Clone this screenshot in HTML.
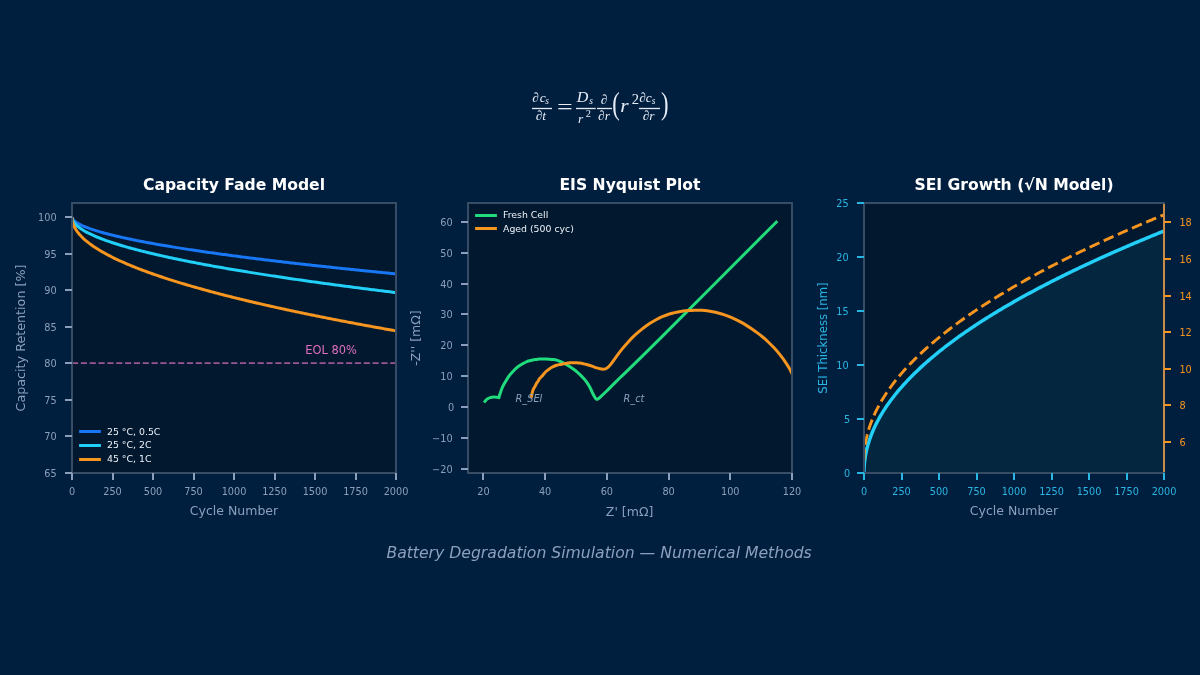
<!DOCTYPE html>
<html lang="en"><head><meta charset="utf-8"><title>Battery Degradation Simulation</title>
<style>
html,body{margin:0;padding:0;background:#001f3f;}
body{width:1200px;height:675px;overflow:hidden;}
svg{display:block;font-family:"DejaVu Sans","Liberation Sans",sans-serif;}
.m{font-family:"Liberation Serif","DejaVu Serif",serif;font-style:italic;fill:#e6ecf6;}
.r{font-family:"Liberation Serif","DejaVu Serif",serif;font-style:normal;fill:#e6ecf6;}
</style></head><body>
<svg width="1200" height="675" viewBox="0 0 1200 675">
<rect width="1200" height="675" fill="#001f3f"/>
<g id="formula">
<text class="m" x="532.3" y="102" font-size="13.4" >∂</text>
<text class="m" x="539.7" y="102" font-size="13.4" >c</text>
<text class="m" x="545.2" y="103.9" font-size="9.4" >s</text>
<path d="M532,108.5 H552" stroke="#e6ecf6" stroke-width="1.3" fill="none"/>
<text class="m" x="535.7" y="120" font-size="13.4" >∂</text>
<text class="m" x="542.2" y="120" font-size="13.4" >t</text>
<text class="r" x="0" y="0" font-size="30" transform="translate(557.1,113.7) scale(0.93,0.73)">=</text>
<text class="m" x="576.7" y="102" font-size="14.2" textLength="11.6" lengthAdjust="spacingAndGlyphs">D</text>
<text class="m" x="589.3" y="103.9" font-size="9.4" >s</text>
<path d="M576,108.5 H595.7" stroke="#e6ecf6" stroke-width="1.3" fill="none"/>
<text class="m" x="578" y="122.7" font-size="13.4" >r</text>
<text class="r" x="585.7" y="117.3" font-size="10.4" >2</text>
<text class="m" x="600.7" y="104.3" font-size="13.4" >∂</text>
<path d="M597,108.5 H612" stroke="#e6ecf6" stroke-width="1.3" fill="none"/>
<text class="m" x="598" y="120" font-size="13.4" >∂</text>
<text class="m" x="604.7" y="120" font-size="13.4" >r</text>
<text class="r" x="0" y="0" font-size="30" transform="translate(612.25,114.1) scale(0.75,1.03)">(</text>
<text class="m" x="620.2" y="111.9" font-size="18.2" textLength="8.4" lengthAdjust="spacingAndGlyphs">r</text>
<text class="r" x="631.7" y="104" font-size="14.6" >2</text>
<text class="m" x="639.3" y="102" font-size="13.4" >∂</text>
<text class="m" x="645.7" y="102" font-size="13.4" >c</text>
<text class="m" x="651.7" y="104" font-size="9.4" >s</text>
<path d="M639,108.5 H660" stroke="#e6ecf6" stroke-width="1.3" fill="none"/>
<text class="m" x="642.7" y="120" font-size="13.4" >∂</text>
<text class="m" x="649.3" y="120" font-size="13.4" >r</text>
<text class="r" x="0" y="0" font-size="30" transform="translate(660.95,114.1) scale(0.75,1.03)">)</text>
</g>
<rect x="72" y="203" width="324" height="270" fill="#02182f"/>
<clipPath id="c1"><rect x="72" y="203" width="324" height="270"/></clipPath>
<g clip-path="url(#c1)" fill="none" stroke-width="3" stroke-linejoin="round">
<path d="M72,217.09 L72.14,217.89 L72.27,218.25 L72.41,218.54 L72.55,218.79 L72.69,219.02 L72.82,219.22 L72.96,219.41 L73.1,219.58 L73.24,219.75 L73.37,219.91 L73.51,220.06 L73.65,220.2 L73.78,220.34 L73.92,220.48 L74.06,220.61 L74.2,220.74 L74.33,220.86 L74.47,220.98 L74.61,221.1 L74.75,221.21 L74.88,221.32 L75.02,221.43 L75.16,221.54 L75.29,221.65 L75.43,221.75 L75.57,221.85 L75.71,221.95 L75.84,222.05 L75.98,222.15 L76.12,222.24 L76.26,222.33 L76.39,222.43 L76.53,222.52 L76.67,222.61 L76.81,222.7 L76.94,222.78 L77.08,222.87 L77.22,222.95 L77.35,223.04 L77.49,223.12 L77.63,223.2 L77.77,223.29 L77.9,223.37 L78.04,223.45 L78.18,223.53 L78.32,223.6 L78.45,223.68 L78.59,223.76 L78.73,223.83 L78.86,223.91 L79,223.98 L79.14,224.06 L79.28,224.13 L79.41,224.2 L79.55,224.28 L79.69,224.35 L79.83,224.42 L79.96,224.49 L80.1,224.56 L81.69,225.33 L83.27,226.05 L84.86,226.72 L86.45,227.36 L88.04,227.96 L89.62,228.54 L91.21,229.1 L92.8,229.63 L94.39,230.15 L95.97,230.65 L97.56,231.14 L99.15,231.61 L100.74,232.07 L102.32,232.52 L103.91,232.96 L105.5,233.39 L107.09,233.81 L108.67,234.22 L110.26,234.63 L111.85,235.02 L113.44,235.41 L115.02,235.8 L116.61,236.17 L118.2,236.54 L119.79,236.91 L121.37,237.27 L122.96,237.62 L124.55,237.97 L126.14,238.31 L127.72,238.65 L129.31,238.99 L130.9,239.32 L132.49,239.65 L134.07,239.97 L135.66,240.29 L137.25,240.61 L138.84,240.92 L140.42,241.23 L142.01,241.54 L143.6,241.84 L145.18,242.14 L146.77,242.44 L148.36,242.73 L149.95,243.03 L151.53,243.31 L153.12,243.6 L154.71,243.89 L156.3,244.17 L157.88,244.45 L159.47,244.72 L161.06,245 L162.65,245.27 L164.23,245.54 L165.82,245.81 L167.41,246.07 L169,246.34 L170.58,246.6 L172.17,246.86 L173.76,247.12 L175.35,247.38 L176.93,247.63 L178.52,247.89 L180.11,248.14 L181.7,248.39 L183.28,248.63 L184.87,248.88 L186.46,249.13 L188.05,249.37 L189.63,249.61 L191.22,249.85 L192.81,250.09 L194.4,250.33 L195.98,250.57 L197.57,250.8 L199.16,251.04 L200.75,251.27 L202.33,251.5 L203.92,251.73 L205.51,251.96 L207.09,252.18 L208.68,252.41 L210.27,252.64 L211.86,252.86 L213.44,253.08 L215.03,253.3 L216.62,253.52 L218.21,253.74 L219.79,253.96 L221.38,254.18 L222.97,254.4 L224.56,254.61 L226.14,254.82 L227.73,255.04 L229.32,255.25 L230.91,255.46 L232.49,255.67 L234.08,255.88 L235.67,256.09 L237.26,256.3 L238.84,256.5 L240.43,256.71 L242.02,256.91 L243.61,257.12 L245.19,257.32 L246.78,257.52 L248.37,257.73 L249.96,257.93 L251.54,258.13 L253.13,258.33 L254.72,258.52 L256.31,258.72 L257.89,258.92 L259.48,259.11 L261.07,259.31 L262.66,259.5 L264.24,259.7 L265.83,259.89 L267.42,260.08 L269.01,260.28 L270.59,260.47 L272.18,260.66 L273.77,260.85 L275.35,261.04 L276.94,261.22 L278.53,261.41 L280.12,261.6 L281.7,261.78 L283.29,261.97 L284.88,262.16 L286.47,262.34 L288.05,262.52 L289.64,262.71 L291.23,262.89 L292.82,263.07 L294.4,263.25 L295.99,263.43 L297.58,263.62 L299.17,263.79 L300.75,263.97 L302.34,264.15 L303.93,264.33 L305.52,264.51 L307.1,264.69 L308.69,264.86 L310.28,265.04 L311.87,265.21 L313.45,265.39 L315.04,265.56 L316.63,265.74 L318.22,265.91 L319.8,266.08 L321.39,266.25 L322.98,266.43 L324.57,266.6 L326.15,266.77 L327.74,266.94 L329.33,267.11 L330.92,267.28 L332.5,267.45 L334.09,267.62 L335.68,267.78 L337.26,267.95 L338.85,268.12 L340.44,268.29 L342.03,268.45 L343.61,268.62 L345.2,268.78 L346.79,268.95 L348.38,269.11 L349.96,269.28 L351.55,269.44 L353.14,269.6 L354.73,269.77 L356.31,269.93 L357.9,270.09 L359.49,270.25 L361.08,270.41 L362.66,270.58 L364.25,270.74 L365.84,270.9 L367.43,271.06 L369.01,271.21 L370.6,271.37 L372.19,271.53 L373.78,271.69 L375.36,271.85 L376.95,272.01 L378.54,272.16 L380.13,272.32 L381.71,272.48 L383.3,272.63 L384.89,272.79 L386.48,272.94 L388.06,273.1 L389.65,273.25 L391.24,273.41 L392.83,273.56 L394.41,273.71 L396,273.87" stroke="#1877f5"/>
<path d="M72,217.09 L72.14,218.42 L72.27,219 L72.41,219.45 L72.55,219.83 L72.69,220.17 L72.82,220.47 L72.96,220.75 L73.1,221.02 L73.24,221.26 L73.37,221.5 L73.51,221.72 L73.65,221.94 L73.78,222.14 L73.92,222.34 L74.06,222.53 L74.2,222.72 L74.33,222.9 L74.47,223.07 L74.61,223.24 L74.75,223.41 L74.88,223.57 L75.02,223.73 L75.16,223.89 L75.29,224.04 L75.43,224.19 L75.57,224.33 L75.71,224.48 L75.84,224.62 L75.98,224.76 L76.12,224.89 L76.26,225.03 L76.39,225.16 L76.53,225.29 L76.67,225.42 L76.81,225.54 L76.94,225.67 L77.08,225.79 L77.22,225.91 L77.35,226.03 L77.49,226.15 L77.63,226.27 L77.77,226.38 L77.9,226.5 L78.04,226.61 L78.18,226.72 L78.32,226.83 L78.45,226.94 L78.59,227.05 L78.73,227.16 L78.86,227.27 L79,227.37 L79.14,227.48 L79.28,227.58 L79.41,227.68 L79.55,227.78 L79.69,227.88 L79.83,227.98 L79.96,228.08 L80.1,228.18 L81.69,229.26 L83.27,230.26 L84.86,231.19 L86.45,232.07 L88.04,232.91 L89.62,233.7 L91.21,234.47 L92.8,235.2 L94.39,235.9 L95.97,236.59 L97.56,237.25 L99.15,237.89 L100.74,238.51 L102.32,239.12 L103.91,239.71 L105.5,240.29 L107.09,240.85 L108.67,241.41 L110.26,241.95 L111.85,242.48 L113.44,243 L115.02,243.51 L116.61,244.01 L118.2,244.51 L119.79,244.99 L121.37,245.47 L122.96,245.94 L124.55,246.41 L126.14,246.86 L127.72,247.32 L129.31,247.76 L130.9,248.2 L132.49,248.63 L134.07,249.06 L135.66,249.48 L137.25,249.9 L138.84,250.31 L140.42,250.72 L142.01,251.12 L143.6,251.52 L145.18,251.92 L146.77,252.31 L148.36,252.7 L149.95,253.08 L151.53,253.46 L153.12,253.83 L154.71,254.21 L156.3,254.57 L157.88,254.94 L159.47,255.3 L161.06,255.66 L162.65,256.02 L164.23,256.37 L165.82,256.72 L167.41,257.07 L169,257.41 L170.58,257.75 L172.17,258.09 L173.76,258.43 L175.35,258.76 L176.93,259.09 L178.52,259.42 L180.11,259.75 L181.7,260.07 L183.28,260.4 L184.87,260.72 L186.46,261.04 L188.05,261.35 L189.63,261.66 L191.22,261.98 L192.81,262.29 L194.4,262.59 L195.98,262.9 L197.57,263.2 L199.16,263.51 L200.75,263.81 L202.33,264.11 L203.92,264.4 L205.51,264.7 L207.09,264.99 L208.68,265.28 L210.27,265.57 L211.86,265.86 L213.44,266.15 L215.03,266.43 L216.62,266.72 L218.21,267 L219.79,267.28 L221.38,267.56 L222.97,267.84 L224.56,268.12 L226.14,268.39 L227.73,268.67 L229.32,268.94 L230.91,269.21 L232.49,269.48 L234.08,269.75 L235.67,270.02 L237.26,270.28 L238.84,270.55 L240.43,270.81 L242.02,271.07 L243.61,271.34 L245.19,271.6 L246.78,271.85 L248.37,272.11 L249.96,272.37 L251.54,272.63 L253.13,272.88 L254.72,273.13 L256.31,273.39 L257.89,273.64 L259.48,273.89 L261.07,274.14 L262.66,274.39 L264.24,274.63 L265.83,274.88 L267.42,275.13 L269.01,275.37 L270.59,275.62 L272.18,275.86 L273.77,276.1 L275.35,276.34 L276.94,276.58 L278.53,276.82 L280.12,277.06 L281.7,277.3 L283.29,277.53 L284.88,277.77 L286.47,278 L288.05,278.24 L289.64,278.47 L291.23,278.7 L292.82,278.93 L294.4,279.16 L295.99,279.39 L297.58,279.62 L299.17,279.85 L300.75,280.08 L302.34,280.31 L303.93,280.53 L305.52,280.76 L307.1,280.98 L308.69,281.21 L310.28,281.43 L311.87,281.65 L313.45,281.87 L315.04,282.1 L316.63,282.32 L318.22,282.54 L319.8,282.76 L321.39,282.97 L322.98,283.19 L324.57,283.41 L326.15,283.62 L327.74,283.84 L329.33,284.06 L330.92,284.27 L332.5,284.48 L334.09,284.7 L335.68,284.91 L337.26,285.12 L338.85,285.33 L340.44,285.54 L342.03,285.75 L343.61,285.96 L345.2,286.17 L346.79,286.38 L348.38,286.59 L349.96,286.8 L351.55,287 L353.14,287.21 L354.73,287.41 L356.31,287.62 L357.9,287.82 L359.49,288.03 L361.08,288.23 L362.66,288.43 L364.25,288.64 L365.84,288.84 L367.43,289.04 L369.01,289.24 L370.6,289.44 L372.19,289.64 L373.78,289.84 L375.36,290.04 L376.95,290.24 L378.54,290.43 L380.13,290.63 L381.71,290.83 L383.3,291.02 L384.89,291.22 L386.48,291.42 L388.06,291.61 L389.65,291.81 L391.24,292 L392.83,292.19 L394.41,292.39 L396,292.58" stroke="#22cff8"/>
<path d="M72,217.09 L72.14,219.44 L72.27,220.41 L72.41,221.15 L72.55,221.78 L72.69,222.33 L72.82,222.83 L72.96,223.29 L73.1,223.72 L73.24,224.12 L73.37,224.5 L73.51,224.86 L73.65,225.21 L73.78,225.54 L73.92,225.86 L74.06,226.17 L74.2,226.46 L74.33,226.75 L74.47,227.03 L74.61,227.3 L74.75,227.57 L74.88,227.83 L75.02,228.08 L75.16,228.33 L75.29,228.57 L75.43,228.81 L75.57,229.04 L75.71,229.27 L75.84,229.49 L75.98,229.71 L76.12,229.92 L76.26,230.14 L76.39,230.34 L76.53,230.55 L76.67,230.75 L76.81,230.95 L76.94,231.15 L77.08,231.34 L77.22,231.53 L77.35,231.72 L77.49,231.91 L77.63,232.09 L77.77,232.27 L77.9,232.45 L78.04,232.63 L78.18,232.81 L78.32,232.98 L78.45,233.15 L78.59,233.32 L78.73,233.49 L78.86,233.66 L79,233.82 L79.14,233.99 L79.28,234.15 L79.41,234.31 L79.55,234.47 L79.69,234.62 L79.83,234.78 L79.96,234.93 L80.1,235.09 L81.69,236.77 L83.27,238.32 L84.86,239.77 L86.45,241.13 L88.04,242.41 L89.62,243.63 L91.21,244.8 L92.8,245.93 L94.39,247.01 L95.97,248.05 L97.56,249.06 L99.15,250.03 L100.74,250.98 L102.32,251.91 L103.91,252.81 L105.5,253.68 L107.09,254.54 L108.67,255.38 L110.26,256.2 L111.85,257 L113.44,257.79 L115.02,258.56 L116.61,259.32 L118.2,260.06 L119.79,260.79 L121.37,261.51 L122.96,262.22 L124.55,262.92 L126.14,263.61 L127.72,264.28 L129.31,264.95 L130.9,265.61 L132.49,266.26 L134.07,266.9 L135.66,267.53 L137.25,268.16 L138.84,268.78 L140.42,269.39 L142.01,269.99 L143.6,270.59 L145.18,271.18 L146.77,271.76 L148.36,272.34 L149.95,272.91 L151.53,273.47 L153.12,274.03 L154.71,274.59 L156.3,275.14 L157.88,275.68 L159.47,276.22 L161.06,276.75 L162.65,277.28 L164.23,277.81 L165.82,278.33 L167.41,278.84 L169,279.35 L170.58,279.86 L172.17,280.37 L173.76,280.86 L175.35,281.36 L176.93,281.85 L178.52,282.34 L180.11,282.82 L181.7,283.31 L183.28,283.78 L184.87,284.26 L186.46,284.73 L188.05,285.19 L189.63,285.66 L191.22,286.12 L192.81,286.58 L194.4,287.03 L195.98,287.48 L197.57,287.93 L199.16,288.38 L200.75,288.82 L202.33,289.26 L203.92,289.7 L205.51,290.14 L207.09,290.57 L208.68,291 L210.27,291.43 L211.86,291.86 L213.44,292.28 L215.03,292.7 L216.62,293.12 L218.21,293.53 L219.79,293.95 L221.38,294.36 L222.97,294.77 L224.56,295.18 L226.14,295.58 L227.73,295.98 L229.32,296.39 L230.91,296.78 L232.49,297.18 L234.08,297.58 L235.67,297.97 L237.26,298.36 L238.84,298.75 L240.43,299.14 L242.02,299.52 L243.61,299.91 L245.19,300.29 L246.78,300.67 L248.37,301.05 L249.96,301.43 L251.54,301.8 L253.13,302.17 L254.72,302.55 L256.31,302.92 L257.89,303.29 L259.48,303.65 L261.07,304.02 L262.66,304.38 L264.24,304.75 L265.83,305.11 L267.42,305.47 L269.01,305.82 L270.59,306.18 L272.18,306.54 L273.77,306.89 L275.35,307.24 L276.94,307.59 L278.53,307.94 L280.12,308.29 L281.7,308.64 L283.29,308.99 L284.88,309.33 L286.47,309.67 L288.05,310.02 L289.64,310.36 L291.23,310.7 L292.82,311.03 L294.4,311.37 L295.99,311.71 L297.58,312.04 L299.17,312.37 L300.75,312.71 L302.34,313.04 L303.93,313.37 L305.52,313.7 L307.1,314.03 L308.69,314.35 L310.28,314.68 L311.87,315 L313.45,315.33 L315.04,315.65 L316.63,315.97 L318.22,316.29 L319.8,316.61 L321.39,316.93 L322.98,317.24 L324.57,317.56 L326.15,317.88 L327.74,318.19 L329.33,318.5 L330.92,318.82 L332.5,319.13 L334.09,319.44 L335.68,319.75 L337.26,320.06 L338.85,320.36 L340.44,320.67 L342.03,320.98 L343.61,321.28 L345.2,321.58 L346.79,321.89 L348.38,322.19 L349.96,322.49 L351.55,322.79 L353.14,323.09 L354.73,323.39 L356.31,323.69 L357.9,323.99 L359.49,324.28 L361.08,324.58 L362.66,324.87 L364.25,325.17 L365.84,325.46 L367.43,325.75 L369.01,326.04 L370.6,326.33 L372.19,326.62 L373.78,326.91 L375.36,327.2 L376.95,327.49 L378.54,327.78 L380.13,328.06 L381.71,328.35 L383.3,328.63 L384.89,328.92 L386.48,329.2 L388.06,329.48 L389.65,329.76 L391.24,330.05 L392.83,330.33 L394.41,330.61 L396,330.88" stroke="#f6951f"/>
<path d="M72,363.04 H396" stroke="#e070c0" stroke-opacity="0.7" stroke-width="1.67" stroke-dasharray="6.17,2.67"/>
</g>
<text x="331" y="354.3" font-size="11.4" fill="#e070c0" text-anchor="middle">EOL 80%</text>
<g fill="none" stroke-width="2" stroke-linecap="square">
<path d="M72,473 L72,203" stroke="#364d65"/>
<path d="M396,473 L396,203" stroke="#364d65"/>
<path d="M72,473 L396,473" stroke="#364d65"/>
<path d="M72,203 L396,203" stroke="#364d65"/>
</g>
<path d="M72,473 v7 M113,473 v7 M153,473 v7 M194,473 v7 M234,473 v7 M275,473 v7 M315,473 v7 M356,473 v7 M396,473 v7 " stroke="#8c9fba" stroke-width="2" fill="none"/>
<g font-size="9.72" fill="#8c9fba" text-anchor="middle">
<text x="72" y="495">0</text>
<text x="112.5" y="495">250</text>
<text x="153" y="495">500</text>
<text x="193.5" y="495">750</text>
<text x="234" y="495">1000</text>
<text x="274.5" y="495">1250</text>
<text x="315" y="495">1500</text>
<text x="355.5" y="495">1750</text>
<text x="396" y="495">2000</text>
</g>
<path d="M72,473 h-7 M72,436 h-7 M72,400 h-7 M72,363 h-7 M72,327 h-7 M72,290 h-7 M72,254 h-7 M72,217 h-7 " stroke="#8c9fba" stroke-width="2" fill="none"/>
<g font-size="9.72" fill="#8c9fba" text-anchor="end">
<text x="56.6" y="477">65</text>
<text x="56.6" y="440">70</text>
<text x="56.6" y="404">75</text>
<text x="56.6" y="367">80</text>
<text x="56.6" y="331">85</text>
<text x="56.6" y="294">90</text>
<text x="56.6" y="258">95</text>
<text x="56.6" y="221">100</text>
</g>
<text x="234" y="189.9" font-size="15.6" font-weight="bold" fill="#ffffff" text-anchor="middle">Capacity Fade Model</text>
<text x="234" y="515.3" font-size="12.5" fill="#8c9fbd" text-anchor="middle">Cycle Number</text>
<text transform="translate(25.3,338.0) rotate(-90)" font-size="12.72" fill="#8c9fbd" text-anchor="middle">Capacity Retention [%]</text>
<path d="M80.6,431.5 h18.8" stroke="#1877f5" stroke-width="3" stroke-linecap="square" fill="none"/>
<text x="107" y="435" font-size="9.35" fill="#eef2f8">25 °C, 0.5C</text>
<path d="M80.6,445.5 h18.8" stroke="#22cff8" stroke-width="3" stroke-linecap="square" fill="none"/>
<text x="107" y="448.4" font-size="9.35" fill="#eef2f8">25 °C, 2C</text>
<path d="M80.6,459.5 h18.8" stroke="#f6951f" stroke-width="3" stroke-linecap="square" fill="none"/>
<text x="107" y="462" font-size="9.35" fill="#eef2f8">45 °C, 1C</text>
<rect x="468" y="203" width="324" height="270" fill="#02182f"/>
<clipPath id="c2"><rect x="468" y="203" width="324" height="270"/></clipPath>
<g clip-path="url(#c2)" fill="none" stroke-width="3" stroke-linejoin="round" stroke-linecap="square">
<path d="M485,401.4 C485.35,401.02 486.23,399.73 487.1,399.1 C487.97,398.47 489.08,397.93 490.2,397.6 C491.32,397.27 492.68,397.15 493.8,397.1 C494.92,397.05 496.05,397.2 496.9,397.3 C497.75,397.4 498.57,397.63 498.9,397.7 C499.12,396.97 499.57,395.13 500.2,393.3 C500.83,391.47 501.73,388.8 502.7,386.7 C503.67,384.6 504.9,382.53 506,380.7 C507.1,378.87 508.18,377.2 509.3,375.7 C510.42,374.2 511.58,372.93 512.7,371.7 C513.82,370.47 514.9,369.3 516,368.3 C517.1,367.3 518.18,366.47 519.3,365.7 C520.42,364.93 521.58,364.32 522.7,363.7 C523.82,363.08 524.9,362.48 526,362 C527.1,361.52 528.18,361.13 529.3,360.8 C530.42,360.47 531.58,360.22 532.7,360 C533.82,359.78 534.9,359.65 536,359.5 C537.1,359.35 538.18,359.18 539.3,359.1 C540.42,359.02 541.58,359.01 542.7,359 C543.82,358.99 544.9,359.02 546,359.05 C547.1,359.08 548.08,359.12 549.3,359.2 C550.52,359.27 552.07,359.35 553.3,359.5 C554.53,359.65 555.58,359.8 556.7,360.1 C557.82,360.4 558.9,360.83 560,361.3 C561.1,361.77 562.18,362.33 563.3,362.9 C564.42,363.47 565.58,364.07 566.7,364.7 C567.82,365.33 568.9,365.98 570,366.7 C571.1,367.42 572.18,368.17 573.3,369 C574.42,369.83 575.58,370.75 576.7,371.7 C577.82,372.65 578.9,373.65 580,374.7 C581.1,375.75 582.18,376.77 583.3,378 C584.42,379.23 585.58,380.52 586.7,382.1 C587.82,383.68 588.98,385.6 590,387.5 C591.02,389.4 591.95,391.8 592.8,393.5 C593.65,395.2 594.48,396.73 595.1,397.7 C595.72,398.67 595.98,399.13 596.5,399.3 C597.02,399.47 597.62,399.03 598.2,398.7 C598.78,398.37 598.58,398.58 600,397.3 C601.42,396.02 604.48,393.15 606.7,391 C608.92,388.85 611.08,386.6 613.3,384.4 C615.52,382.2 612.22,385.43 620,377.8 C627.78,370.17 633.97,364.53 660,338.6 C686.03,312.67 756.83,241.6 776.2,222.2" stroke="#20dc7c"/>
<path d="M531.5,396.3 C531.62,395.72 531.9,393.97 532.2,392.8 C532.5,391.63 532.85,390.33 533.3,389.3 C533.75,388.27 534.42,387.48 534.9,386.6 C535.38,385.72 535.62,384.97 536.2,384 C536.78,383.03 537.88,381.65 538.4,380.8 C538.92,379.95 538.6,379.8 539.3,378.9 C540,378 541.48,376.63 542.6,375.4 C543.72,374.17 544.88,372.58 546,371.5 C547.12,370.42 548.18,369.67 549.3,368.9 C550.42,368.13 551.47,367.5 552.7,366.9 C553.93,366.3 555.48,365.7 556.7,365.3 C557.92,364.9 558.9,364.73 560,364.5 C561.1,364.27 562.18,364.12 563.3,363.9 C564.42,363.68 565.58,363.38 566.7,363.2 C567.82,363.02 568.9,362.88 570,362.8 C571.1,362.72 572.18,362.7 573.3,362.7 C574.42,362.7 575.58,362.73 576.7,362.8 C577.82,362.87 578.9,362.95 580,363.1 C581.1,363.25 582.18,363.47 583.3,363.7 C584.42,363.93 585.58,364.2 586.7,364.5 C587.82,364.8 588.9,365.13 590,365.5 C591.1,365.87 592.18,366.3 593.3,366.7 C594.42,367.1 595.58,367.55 596.7,367.9 C597.82,368.25 598.9,368.58 600,368.8 C601.1,369.02 602.42,369.18 603.3,369.2 C604.18,369.22 604.58,369.17 605.3,368.9 C606.02,368.63 606.63,368.43 607.6,367.6 C608.57,366.77 609.58,365.82 611.1,363.9 C612.62,361.98 614.85,358.6 616.7,356.1 C618.55,353.6 620.35,351.18 622.2,348.9 C624.05,346.62 625.95,344.43 627.8,342.4 C629.65,340.37 631.45,338.48 633.3,336.7 C635.15,334.92 637.05,333.28 638.9,331.7 C640.75,330.12 642.55,328.6 644.4,327.2 C646.25,325.8 648.13,324.5 650,323.3 C651.87,322.1 653.75,321.02 655.6,320 C657.45,318.98 659.25,318.03 661.1,317.2 C662.95,316.37 664.85,315.65 666.7,315 C668.55,314.35 670.35,313.8 672.2,313.3 C674.05,312.8 675.95,312.37 677.8,312 C679.65,311.63 681.45,311.33 683.3,311.1 C685.15,310.87 687.05,310.73 688.9,310.6 C690.75,310.47 692.88,310.37 694.4,310.3 C695.92,310.23 696.8,310.2 698,310.2 C699.2,310.2 700.08,310.2 701.6,310.3 C703.12,310.4 705.25,310.57 707.1,310.8 C708.95,311.03 710.85,311.33 712.7,311.7 C714.55,312.07 716.35,312.5 718.2,313 C720.05,313.5 721.95,314.08 723.8,314.7 C725.65,315.32 727.45,315.97 729.3,316.7 C731.15,317.43 733.05,318.23 734.9,319.1 C736.75,319.97 738.55,320.9 740.4,321.9 C742.25,322.9 744.13,323.97 746,325.1 C747.87,326.23 749.75,327.45 751.6,328.7 C753.45,329.95 755.25,331.22 757.1,332.6 C758.95,333.98 760.85,335.43 762.7,337 C764.55,338.57 766.35,340.23 768.2,342 C770.05,343.77 771.95,345.62 773.8,347.6 C775.65,349.58 777.45,351.62 779.3,353.9 C781.15,356.18 783.23,358.9 784.9,361.3 C786.57,363.7 788.23,366.48 789.3,368.3 C790.37,370.12 790.52,370.62 791.3,372.2 C792.08,373.78 793.55,376.87 794,377.8" stroke="#f6951f"/>
</g>
<text x="515.6" y="401.8" font-size="9.72" font-style="italic" fill="#8c9fbd">R_SEI</text>
<text x="623.6" y="401.8" font-size="9.72" font-style="italic" fill="#8c9fbd">R_ct</text>
<g fill="none" stroke-width="2" stroke-linecap="square">
<path d="M468,473 L468,203" stroke="#364d65"/>
<path d="M792,473 L792,203" stroke="#364d65"/>
<path d="M468,473 L792,473" stroke="#364d65"/>
<path d="M468,203 L792,203" stroke="#364d65"/>
</g>
<path d="M483,473 v7 M545,473 v7 M607,473 v7 M669,473 v7 M730,473 v7 M792,473 v7 " stroke="#8c9fba" stroke-width="2" fill="none"/>
<g font-size="9.72" fill="#8c9fba" text-anchor="middle">
<text x="483.43" y="495">20</text>
<text x="545.14" y="495">40</text>
<text x="606.86" y="495">60</text>
<text x="668.57" y="495">80</text>
<text x="730.29" y="495">100</text>
<text x="792" y="495">120</text>
</g>
<path d="M468,469 h-7 M468,438 h-7 M468,407 h-7 M468,376 h-7 M468,345 h-7 M468,314 h-7 M468,284 h-7 M468,253 h-7 M468,222 h-7 " stroke="#8c9fba" stroke-width="2" fill="none"/>
<g font-size="9.72" fill="#8c9fba" text-anchor="end">
<text x="452.6" y="473">−20</text>
<text x="452.6" y="442">−10</text>
<text x="454.3" y="411">0</text>
<text x="452.6" y="380">10</text>
<text x="452.6" y="349">20</text>
<text x="452.6" y="318">30</text>
<text x="452.6" y="288">40</text>
<text x="452.6" y="257">50</text>
<text x="452.6" y="226">60</text>
</g>
<text x="630" y="189.9" font-size="15.6" font-weight="bold" fill="#ffffff" text-anchor="middle">EIS Nyquist Plot</text>
<text x="629.6" y="516.3" font-size="12.5" fill="#8c9fbd" text-anchor="middle">Z' [mΩ]</text>
<text transform="translate(419.8,338.0) rotate(-90)" font-size="12.5" fill="#8c9fbd" text-anchor="middle">-Z'' [mΩ]</text>
<path d="M476.6,215.5 h18.8" stroke="#20dc7c" stroke-width="3" stroke-linecap="square" fill="none"/>
<text x="503" y="218" font-size="9.35" fill="#eef2f8">Fresh Cell</text>
<path d="M476.6,228.5 h18.8" stroke="#f6951f" stroke-width="3" stroke-linecap="square" fill="none"/>
<text x="503" y="231.6" font-size="9.35" fill="#eef2f8">Aged (500 cyc)</text>
<rect x="864" y="203" width="300" height="270" fill="#02182f"/>
<clipPath id="c3"><rect x="864" y="203" width="300" height="270"/></clipPath>
<g clip-path="url(#c3)" fill="none" stroke-linejoin="round">
<path d="M864,472.5 L864.06,469.17 L864.11,467.79 L864.17,466.74 L864.23,465.84 L864.28,465.06 L864.34,464.35 L864.4,463.7 L864.46,463.09 L864.51,462.52 L864.57,461.98 L864.63,461.46 L864.68,460.97 L864.74,460.5 L864.8,460.05 L864.85,459.61 L864.91,459.19 L864.97,458.78 L865.03,458.38 L865.08,458 L865.14,457.62 L865.2,457.25 L865.25,456.89 L865.31,456.54 L865.37,456.2 L865.42,455.86 L865.48,455.53 L865.54,455.21 L865.59,454.89 L865.65,454.58 L865.71,454.27 L865.77,453.97 L865.82,453.68 L865.88,453.38 L865.94,453.1 L865.99,452.81 L866.05,452.53 L866.11,452.26 L866.16,451.99 L866.22,451.72 L866.28,451.45 L866.34,451.19 L866.39,450.93 L866.45,450.68 L866.51,450.43 L866.56,450.18 L866.62,449.93 L866.68,449.69 L866.73,449.45 L866.79,449.21 L866.85,448.97 L866.91,448.74 L866.96,448.5 L867.02,448.27 L867.08,448.05 L867.13,447.82 L867.19,447.6 L867.25,447.38 L867.3,447.16 L867.36,446.94 L867.42,446.72 L867.47,446.51 L867.53,446.3 L867.59,446.09 L867.65,445.88 L867.7,445.67 L867.76,445.47 L867.82,445.26 L867.87,445.06 L867.93,444.86 L867.99,444.66 L868.04,444.46 L868.1,444.26 L868.16,444.07 L868.22,443.87 L868.27,443.68 L868.33,443.49 L868.39,443.3 L868.44,443.11 L868.5,442.92 L869.85,438.78 L871.2,435.09 L872.55,431.74 L873.9,428.64 L875.25,425.74 L876.6,423.02 L877.95,420.43 L879.29,417.97 L880.64,415.62 L881.99,413.36 L883.34,411.18 L884.69,409.08 L886.04,407.04 L887.39,405.07 L888.74,403.15 L890.09,401.28 L891.44,399.47 L892.79,397.69 L894.14,395.96 L895.49,394.26 L896.84,392.6 L898.18,390.98 L899.53,389.39 L900.88,387.82 L902.23,386.29 L903.58,384.78 L904.93,383.3 L906.28,381.84 L907.63,380.4 L908.98,378.99 L910.33,377.6 L911.68,376.23 L913.03,374.87 L914.38,373.54 L915.73,372.22 L917.08,370.92 L918.42,369.64 L919.77,368.37 L921.12,367.12 L922.47,365.88 L923.82,364.66 L925.17,363.45 L926.52,362.25 L927.87,361.07 L929.22,359.9 L930.57,358.74 L931.92,357.59 L933.27,356.46 L934.62,355.33 L935.97,354.22 L937.32,353.12 L938.66,352.02 L940.01,350.94 L941.36,349.86 L942.71,348.8 L944.06,347.74 L945.41,346.7 L946.76,345.66 L948.11,344.63 L949.46,343.61 L950.81,342.59 L952.16,341.59 L953.51,340.59 L954.86,339.6 L956.21,338.62 L957.55,337.64 L958.9,336.67 L960.25,335.71 L961.6,334.75 L962.95,333.81 L964.3,332.86 L965.65,331.93 L967,331 L968.35,330.07 L969.7,329.15 L971.05,328.24 L972.4,327.34 L973.75,326.44 L975.1,325.54 L976.45,324.65 L977.79,323.77 L979.14,322.89 L980.49,322.01 L981.84,321.14 L983.19,320.28 L984.54,319.42 L985.89,318.57 L987.24,317.72 L988.59,316.87 L989.94,316.03 L991.29,315.2 L992.64,314.36 L993.99,313.54 L995.34,312.71 L996.68,311.9 L998.03,311.08 L999.38,310.27 L1000.73,309.46 L1002.08,308.66 L1003.43,307.86 L1004.78,307.07 L1006.13,306.28 L1007.48,305.49 L1008.83,304.71 L1010.18,303.93 L1011.53,303.15 L1012.88,302.38 L1014.23,301.61 L1015.58,300.84 L1016.92,300.08 L1018.27,299.32 L1019.62,298.57 L1020.97,297.81 L1022.32,297.06 L1023.67,296.32 L1025.02,295.58 L1026.37,294.84 L1027.72,294.1 L1029.07,293.37 L1030.42,292.63 L1031.77,291.91 L1033.12,291.18 L1034.47,290.46 L1035.82,289.74 L1037.16,289.02 L1038.51,288.31 L1039.86,287.6 L1041.21,286.89 L1042.56,286.19 L1043.91,285.48 L1045.26,284.78 L1046.61,284.09 L1047.96,283.39 L1049.31,282.7 L1050.66,282.01 L1052.01,281.32 L1053.36,280.64 L1054.71,279.96 L1056.05,279.28 L1057.4,278.6 L1058.75,277.92 L1060.1,277.25 L1061.45,276.58 L1062.8,275.91 L1064.15,275.25 L1065.5,274.58 L1066.85,273.92 L1068.2,273.26 L1069.55,272.6 L1070.9,271.95 L1072.25,271.3 L1073.6,270.64 L1074.95,270 L1076.29,269.35 L1077.64,268.71 L1078.99,268.06 L1080.34,267.42 L1081.69,266.78 L1083.04,266.15 L1084.39,265.51 L1085.74,264.88 L1087.09,264.25 L1088.44,263.62 L1089.79,262.99 L1091.14,262.37 L1092.49,261.74 L1093.84,261.12 L1095.18,260.5 L1096.53,259.89 L1097.88,259.27 L1099.23,258.66 L1100.58,258.04 L1101.93,257.43 L1103.28,256.82 L1104.63,256.22 L1105.98,255.61 L1107.33,255.01 L1108.68,254.41 L1110.03,253.8 L1111.38,253.21 L1112.73,252.61 L1114.08,252.01 L1115.42,251.42 L1116.77,250.83 L1118.12,250.24 L1119.47,249.65 L1120.82,249.06 L1122.17,248.47 L1123.52,247.89 L1124.87,247.3 L1126.22,246.72 L1127.57,246.14 L1128.92,245.56 L1130.27,244.99 L1131.62,244.41 L1132.97,243.84 L1134.32,243.26 L1135.66,242.69 L1137.01,242.12 L1138.36,241.55 L1139.71,240.99 L1141.06,240.42 L1142.41,239.86 L1143.76,239.29 L1145.11,238.73 L1146.46,238.17 L1147.81,237.61 L1149.16,237.05 L1150.51,236.5 L1151.86,235.94 L1153.21,235.39 L1154.55,234.84 L1155.9,234.29 L1157.25,233.74 L1158.6,233.19 L1159.95,232.64 L1161.3,232.09 L1162.65,231.55 L1164,231 L1164,473 L864,473 Z" fill="#22cff8" fill-opacity="0.08" stroke="none"/>
<path d="M864,472.5 L864.06,469.17 L864.11,467.79 L864.17,466.74 L864.23,465.84 L864.28,465.06 L864.34,464.35 L864.4,463.7 L864.46,463.09 L864.51,462.52 L864.57,461.98 L864.63,461.46 L864.68,460.97 L864.74,460.5 L864.8,460.05 L864.85,459.61 L864.91,459.19 L864.97,458.78 L865.03,458.38 L865.08,458 L865.14,457.62 L865.2,457.25 L865.25,456.89 L865.31,456.54 L865.37,456.2 L865.42,455.86 L865.48,455.53 L865.54,455.21 L865.59,454.89 L865.65,454.58 L865.71,454.27 L865.77,453.97 L865.82,453.68 L865.88,453.38 L865.94,453.1 L865.99,452.81 L866.05,452.53 L866.11,452.26 L866.16,451.99 L866.22,451.72 L866.28,451.45 L866.34,451.19 L866.39,450.93 L866.45,450.68 L866.51,450.43 L866.56,450.18 L866.62,449.93 L866.68,449.69 L866.73,449.45 L866.79,449.21 L866.85,448.97 L866.91,448.74 L866.96,448.5 L867.02,448.27 L867.08,448.05 L867.13,447.82 L867.19,447.6 L867.25,447.38 L867.3,447.16 L867.36,446.94 L867.42,446.72 L867.47,446.51 L867.53,446.3 L867.59,446.09 L867.65,445.88 L867.7,445.67 L867.76,445.47 L867.82,445.26 L867.87,445.06 L867.93,444.86 L867.99,444.66 L868.04,444.46 L868.1,444.26 L868.16,444.07 L868.22,443.87 L868.27,443.68 L868.33,443.49 L868.39,443.3 L868.44,443.11 L868.5,442.92 L869.85,438.78 L871.2,435.09 L872.55,431.74 L873.9,428.64 L875.25,425.74 L876.6,423.02 L877.95,420.43 L879.29,417.97 L880.64,415.62 L881.99,413.36 L883.34,411.18 L884.69,409.08 L886.04,407.04 L887.39,405.07 L888.74,403.15 L890.09,401.28 L891.44,399.47 L892.79,397.69 L894.14,395.96 L895.49,394.26 L896.84,392.6 L898.18,390.98 L899.53,389.39 L900.88,387.82 L902.23,386.29 L903.58,384.78 L904.93,383.3 L906.28,381.84 L907.63,380.4 L908.98,378.99 L910.33,377.6 L911.68,376.23 L913.03,374.87 L914.38,373.54 L915.73,372.22 L917.08,370.92 L918.42,369.64 L919.77,368.37 L921.12,367.12 L922.47,365.88 L923.82,364.66 L925.17,363.45 L926.52,362.25 L927.87,361.07 L929.22,359.9 L930.57,358.74 L931.92,357.59 L933.27,356.46 L934.62,355.33 L935.97,354.22 L937.32,353.12 L938.66,352.02 L940.01,350.94 L941.36,349.86 L942.71,348.8 L944.06,347.74 L945.41,346.7 L946.76,345.66 L948.11,344.63 L949.46,343.61 L950.81,342.59 L952.16,341.59 L953.51,340.59 L954.86,339.6 L956.21,338.62 L957.55,337.64 L958.9,336.67 L960.25,335.71 L961.6,334.75 L962.95,333.81 L964.3,332.86 L965.65,331.93 L967,331 L968.35,330.07 L969.7,329.15 L971.05,328.24 L972.4,327.34 L973.75,326.44 L975.1,325.54 L976.45,324.65 L977.79,323.77 L979.14,322.89 L980.49,322.01 L981.84,321.14 L983.19,320.28 L984.54,319.42 L985.89,318.57 L987.24,317.72 L988.59,316.87 L989.94,316.03 L991.29,315.2 L992.64,314.36 L993.99,313.54 L995.34,312.71 L996.68,311.9 L998.03,311.08 L999.38,310.27 L1000.73,309.46 L1002.08,308.66 L1003.43,307.86 L1004.78,307.07 L1006.13,306.28 L1007.48,305.49 L1008.83,304.71 L1010.18,303.93 L1011.53,303.15 L1012.88,302.38 L1014.23,301.61 L1015.58,300.84 L1016.92,300.08 L1018.27,299.32 L1019.62,298.57 L1020.97,297.81 L1022.32,297.06 L1023.67,296.32 L1025.02,295.58 L1026.37,294.84 L1027.72,294.1 L1029.07,293.37 L1030.42,292.63 L1031.77,291.91 L1033.12,291.18 L1034.47,290.46 L1035.82,289.74 L1037.16,289.02 L1038.51,288.31 L1039.86,287.6 L1041.21,286.89 L1042.56,286.19 L1043.91,285.48 L1045.26,284.78 L1046.61,284.09 L1047.96,283.39 L1049.31,282.7 L1050.66,282.01 L1052.01,281.32 L1053.36,280.64 L1054.71,279.96 L1056.05,279.28 L1057.4,278.6 L1058.75,277.92 L1060.1,277.25 L1061.45,276.58 L1062.8,275.91 L1064.15,275.25 L1065.5,274.58 L1066.85,273.92 L1068.2,273.26 L1069.55,272.6 L1070.9,271.95 L1072.25,271.3 L1073.6,270.64 L1074.95,270 L1076.29,269.35 L1077.64,268.71 L1078.99,268.06 L1080.34,267.42 L1081.69,266.78 L1083.04,266.15 L1084.39,265.51 L1085.74,264.88 L1087.09,264.25 L1088.44,263.62 L1089.79,262.99 L1091.14,262.37 L1092.49,261.74 L1093.84,261.12 L1095.18,260.5 L1096.53,259.89 L1097.88,259.27 L1099.23,258.66 L1100.58,258.04 L1101.93,257.43 L1103.28,256.82 L1104.63,256.22 L1105.98,255.61 L1107.33,255.01 L1108.68,254.41 L1110.03,253.8 L1111.38,253.21 L1112.73,252.61 L1114.08,252.01 L1115.42,251.42 L1116.77,250.83 L1118.12,250.24 L1119.47,249.65 L1120.82,249.06 L1122.17,248.47 L1123.52,247.89 L1124.87,247.3 L1126.22,246.72 L1127.57,246.14 L1128.92,245.56 L1130.27,244.99 L1131.62,244.41 L1132.97,243.84 L1134.32,243.26 L1135.66,242.69 L1137.01,242.12 L1138.36,241.55 L1139.71,240.99 L1141.06,240.42 L1142.41,239.86 L1143.76,239.29 L1145.11,238.73 L1146.46,238.17 L1147.81,237.61 L1149.16,237.05 L1150.51,236.5 L1151.86,235.94 L1153.21,235.39 L1154.55,234.84 L1155.9,234.29 L1157.25,233.74 L1158.6,233.19 L1159.95,232.64 L1161.3,232.09 L1162.65,231.55 L1164,231" stroke="#22cff8" stroke-width="3.47"/>
<path d="M864,460.22 L864.06,456.84 L864.11,455.44 L864.17,454.36 L864.23,453.46 L864.28,452.66 L864.34,451.94 L864.4,451.27 L864.46,450.66 L864.51,450.08 L864.57,449.53 L864.63,449 L864.68,448.51 L864.74,448.03 L864.8,447.57 L864.85,447.12 L864.91,446.69 L864.97,446.28 L865.03,445.87 L865.08,445.48 L865.14,445.1 L865.2,444.72 L865.25,444.36 L865.31,444 L865.37,443.65 L865.42,443.31 L865.48,442.98 L865.54,442.65 L865.59,442.32 L865.65,442.01 L865.71,441.7 L865.77,441.39 L865.82,441.09 L865.88,440.79 L865.94,440.5 L865.99,440.21 L866.05,439.93 L866.11,439.65 L866.16,439.37 L866.22,439.1 L866.28,438.83 L866.34,438.56 L866.39,438.3 L866.45,438.04 L866.51,437.79 L866.56,437.53 L866.62,437.28 L866.68,437.03 L866.73,436.79 L866.79,436.55 L866.85,436.31 L866.91,436.07 L866.96,435.83 L867.02,435.6 L867.08,435.37 L867.13,435.14 L867.19,434.91 L867.25,434.69 L867.3,434.46 L867.36,434.24 L867.42,434.02 L867.47,433.81 L867.53,433.59 L867.59,433.38 L867.65,433.16 L867.7,432.95 L867.76,432.74 L867.82,432.54 L867.87,432.33 L867.93,432.13 L867.99,431.92 L868.04,431.72 L868.1,431.52 L868.16,431.32 L868.22,431.13 L868.27,430.93 L868.33,430.74 L868.39,430.54 L868.44,430.35 L868.5,430.16 L869.85,425.95 L871.2,422.2 L872.55,418.79 L873.9,415.64 L875.25,412.7 L876.6,409.93 L877.95,407.3 L879.29,404.8 L880.64,402.41 L881.99,400.11 L883.34,397.9 L884.69,395.76 L886.04,393.69 L887.39,391.68 L888.74,389.74 L890.09,387.84 L891.44,385.99 L892.79,384.19 L894.14,382.43 L895.49,380.7 L896.84,379.02 L898.18,377.37 L899.53,375.75 L900.88,374.16 L902.23,372.6 L903.58,371.06 L904.93,369.56 L906.28,368.07 L907.63,366.62 L908.98,365.18 L910.33,363.76 L911.68,362.37 L913.03,361 L914.38,359.64 L915.73,358.3 L917.08,356.98 L918.42,355.68 L919.77,354.39 L921.12,353.12 L922.47,351.86 L923.82,350.61 L925.17,349.39 L926.52,348.17 L927.87,346.97 L929.22,345.78 L930.57,344.6 L931.92,343.43 L933.27,342.28 L934.62,341.14 L935.97,340 L937.32,338.88 L938.66,337.77 L940.01,336.67 L941.36,335.58 L942.71,334.49 L944.06,333.42 L945.41,332.36 L946.76,331.3 L948.11,330.26 L949.46,329.22 L950.81,328.19 L952.16,327.16 L953.51,326.15 L954.86,325.14 L956.21,324.14 L957.55,323.15 L958.9,322.17 L960.25,321.19 L961.6,320.22 L962.95,319.25 L964.3,318.3 L965.65,317.34 L967,316.4 L968.35,315.46 L969.7,314.53 L971.05,313.6 L972.4,312.68 L973.75,311.76 L975.1,310.85 L976.45,309.95 L977.79,309.05 L979.14,308.16 L980.49,307.27 L981.84,306.39 L983.19,305.51 L984.54,304.63 L985.89,303.77 L987.24,302.9 L988.59,302.04 L989.94,301.19 L991.29,300.34 L992.64,299.49 L993.99,298.65 L995.34,297.82 L996.68,296.98 L998.03,296.16 L999.38,295.33 L1000.73,294.51 L1002.08,293.7 L1003.43,292.89 L1004.78,292.08 L1006.13,291.27 L1007.48,290.47 L1008.83,289.68 L1010.18,288.89 L1011.53,288.1 L1012.88,287.31 L1014.23,286.53 L1015.58,285.75 L1016.92,284.98 L1018.27,284.2 L1019.62,283.44 L1020.97,282.67 L1022.32,281.91 L1023.67,281.15 L1025.02,280.4 L1026.37,279.65 L1027.72,278.9 L1029.07,278.15 L1030.42,277.41 L1031.77,276.67 L1033.12,275.93 L1034.47,275.2 L1035.82,274.47 L1037.16,273.74 L1038.51,273.01 L1039.86,272.29 L1041.21,271.57 L1042.56,270.86 L1043.91,270.14 L1045.26,269.43 L1046.61,268.72 L1047.96,268.01 L1049.31,267.31 L1050.66,266.61 L1052.01,265.91 L1053.36,265.22 L1054.71,264.52 L1056.05,263.83 L1057.4,263.14 L1058.75,262.46 L1060.1,261.77 L1061.45,261.09 L1062.8,260.41 L1064.15,259.73 L1065.5,259.06 L1066.85,258.39 L1068.2,257.72 L1069.55,257.05 L1070.9,256.38 L1072.25,255.72 L1073.6,255.06 L1074.95,254.4 L1076.29,253.74 L1077.64,253.09 L1078.99,252.43 L1080.34,251.78 L1081.69,251.13 L1083.04,250.49 L1084.39,249.84 L1085.74,249.2 L1087.09,248.56 L1088.44,247.92 L1089.79,247.28 L1091.14,246.65 L1092.49,246.01 L1093.84,245.38 L1095.18,244.75 L1096.53,244.12 L1097.88,243.5 L1099.23,242.87 L1100.58,242.25 L1101.93,241.63 L1103.28,241.01 L1104.63,240.39 L1105.98,239.78 L1107.33,239.16 L1108.68,238.55 L1110.03,237.94 L1111.38,237.33 L1112.73,236.73 L1114.08,236.12 L1115.42,235.52 L1116.77,234.91 L1118.12,234.31 L1119.47,233.72 L1120.82,233.12 L1122.17,232.52 L1123.52,231.93 L1124.87,231.34 L1126.22,230.74 L1127.57,230.15 L1128.92,229.57 L1130.27,228.98 L1131.62,228.39 L1132.97,227.81 L1134.32,227.23 L1135.66,226.65 L1137.01,226.07 L1138.36,225.49 L1139.71,224.91 L1141.06,224.34 L1142.41,223.77 L1143.76,223.19 L1145.11,222.62 L1146.46,222.05 L1147.81,221.48 L1149.16,220.92 L1150.51,220.35 L1151.86,219.79 L1153.21,219.22 L1154.55,218.66 L1155.9,218.1 L1157.25,217.54 L1158.6,216.99 L1159.95,216.43 L1161.3,215.87 L1162.65,215.32 L1164,214.77" stroke="#f6951f" stroke-width="2.92" stroke-dasharray="10.79,4.67"/>
</g>
<g fill="none" stroke-width="2" stroke-linecap="square">
<path d="M864,473 L864,203" stroke="#364d65"/>
<path d="M1164,473 L1164,203" stroke="#c88c48"/>
<path d="M864,473 L1164,473" stroke="#364d65"/>
<path d="M864,203 L1164,203" stroke="#364d65"/>
</g>
<path d="M864,473 v7 M902,473 v7 M939,473 v7 M977,473 v7 M1014,473 v7 M1052,473 v7 M1089,473 v7 M1127,473 v7 M1164,473 v7 " stroke="#2ab6e2" stroke-width="2" fill="none"/>
<g font-size="9.72" fill="#2ab6e2" text-anchor="middle">
<text x="864" y="495">0</text>
<text x="901.5" y="495">250</text>
<text x="939" y="495">500</text>
<text x="976.5" y="495">750</text>
<text x="1014" y="495">1000</text>
<text x="1051.5" y="495">1250</text>
<text x="1089" y="495">1500</text>
<text x="1126.5" y="495">1750</text>
<text x="1164" y="495">2000</text>
</g>
<path d="M864,473 h-7 M864,419 h-7 M864,365 h-7 M864,311 h-7 M864,257 h-7 M864,203 h-7 " stroke="#2ab6e2" stroke-width="2" fill="none"/>
<g font-size="9.72" fill="#2ab6e2" text-anchor="end">
<text x="850.3" y="477">0</text>
<text x="850.3" y="423">5</text>
<text x="848.6" y="369">10</text>
<text x="848.6" y="315">15</text>
<text x="848.6" y="261">20</text>
<text x="848.6" y="207">25</text>
</g>
<path d="M1164,442 h7 M1164,405 h7 M1164,369 h7 M1164,332 h7 M1164,296 h7 M1164,259 h7 M1164,222 h7 " stroke="#f6951f" stroke-width="2" fill="none"/>
<g font-size="9.72" fill="#f6951f" text-anchor="start">
<text x="1179.4" y="446">6</text>
<text x="1179.4" y="409">8</text>
<text x="1179.4" y="373">10</text>
<text x="1179.4" y="336">12</text>
<text x="1179.4" y="300">14</text>
<text x="1179.4" y="263">16</text>
<text x="1179.4" y="226">18</text>
</g>
<text x="1014" y="189.9" font-size="15.6" font-weight="bold" fill="#ffffff" text-anchor="middle">SEI Growth (√N Model)</text>
<text x="1014" y="515.3" font-size="12.5" fill="#8c9fbd" text-anchor="middle">Cycle Number</text>
<text transform="translate(826.8,338.0) rotate(-90)" font-size="11.7" fill="#2ab6e2" text-anchor="middle">SEI Thickness [nm]</text>
<text x="599.1" y="557.8" font-size="15.65" font-style="italic" fill="#8c9fbd" text-anchor="middle">Battery Degradation Simulation — Numerical Methods</text>
</svg></body></html>
